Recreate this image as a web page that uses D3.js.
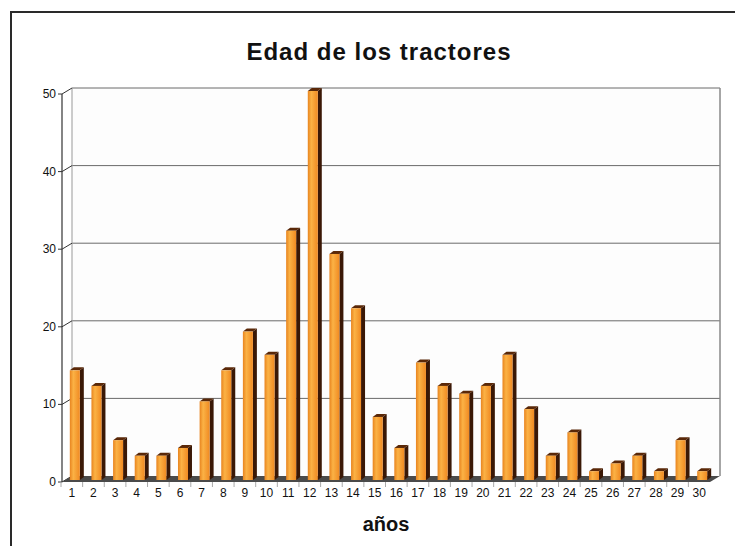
<!DOCTYPE html>
<html><head><meta charset="utf-8">
<script src="https://cdn.jsdelivr.net/npm/d3@7"></script>
<style>body{margin:0;background:#fff}svg{display:block}</style></head>
<body>
<script>
const categories = ["1","2","3","4","5","6","7","8","9","10","11","12","13","14","15","16","17","18","19","20","21","22","23","24","25","26","27","28","29","30"];
const values = [14,12,5,3,3,4,10,14,19,16,32,50,29,22,8,4,15,12,11,12,16,9,3,6,1,2,3,1,5,1];
const yTicks = [0,10,20,30,40,50];
const titleText = "Edad de los tractores";
const xTitleText = "años";

const W = 735, H = 546;
const svg = d3.select("body").append("svg").attr("width", W).attr("height", H);
const x = d3.scaleBand().domain(categories).range([61, 710]);
const y = d3.scaleLinear().domain([0, 50]).range([482, 94]);
const dx = 10, dy = -6;
const wallL = 62 + dx, wallR = 720;
const barShift = -3;

// gradients
const defs = svg.append("defs");
const g = defs.append("linearGradient").attr("id", "front").attr("x1", 0).attr("x2", 1).attr("y1", 0).attr("y2", 0);
g.append("stop").attr("offset", "0%").attr("stop-color", "#e8841f");
g.append("stop").attr("offset", "35%").attr("stop-color", "#fbb245");
g.append("stop").attr("offset", "100%").attr("stop-color", "#f08a22");

// frame
svg.append("path").attr("d", `M11,546 L11,12 L735,12`).attr("fill", "none").attr("stroke", "#2a2a2a").attr("stroke-width", 2);

// back wall
svg.append("rect").attr("x", wallL).attr("y", y(50) + dy).attr("width", wallR - wallL).attr("height", y(0) - y(50))
  .attr("fill", "#fdfdfd").attr("stroke", "none");
// gridlines
svg.append("g").selectAll("line").data(yTicks.filter(d => d > 0)).join("line")
  .attr("x1", wallL).attr("x2", wallR).attr("y1", d => y(d) + dy).attr("y2", d => y(d) + dy)
  .attr("stroke", "#6a6a6a").attr("stroke-width", 1);
// wall edges
svg.append("line").attr("x1", wallL).attr("x2", wallL).attr("y1", y(50) + dy).attr("y2", y(0) + dy).attr("stroke", "#999").attr("stroke-width", 1);
svg.append("line").attr("x1", wallR).attr("x2", wallR).attr("y1", y(50) + dy).attr("y2", y(0) + dy).attr("stroke", "#888").attr("stroke-width", 1.5);
// depth diagonals
svg.append("g").selectAll("line").data(yTicks).join("line")
  .attr("x1", 62).attr("x2", wallL).attr("y1", d => y(d)).attr("y2", d => y(d) + dy)
  .attr("stroke", "#333").attr("stroke-width", 1);

// floor
svg.append("polygon")
  .attr("points", [[62, y(0)], [wallL, y(0) + dy], [wallR, y(0) + dy], [wallR - dx, y(0)]].map(p => p.join(",")).join(" "))
  .attr("fill", "#4a4a4a");

// y axis
svg.append("line").attr("x1", 62).attr("x2", 62).attr("y1", y(50)).attr("y2", y(0)).attr("stroke", "#333").attr("stroke-width", 1.2);
svg.append("g").selectAll("line").data(yTicks).join("line")
  .attr("x1", 58).attr("x2", 62).attr("y1", d => y(d)).attr("y2", d => y(d)).attr("stroke", "#333");
svg.append("g").selectAll("text").data(yTicks).join("text")
  .attr("x", 56).attr("y", d => y(d) + 4).attr("text-anchor", "end")
  .attr("font-family", "Liberation Sans, Arial, sans-serif").attr("font-size", 12).attr("fill", "#111")
  .text(d => d);

// x ticks
svg.append("g").selectAll("line").data(categories).join("line")
  .attr("x1", d => x(d)).attr("x2", d => x(d)).attr("y1", y(0)).attr("y2", y(0) + 5)
  .attr("stroke", "#aaa");

// bars
const bars = svg.append("g").selectAll("g").data(categories.map((c, i) => ({c, v: values[i]}))).join("g");
const cx = d => x(d.c) + x.bandwidth() / 2;
bars.append("polygon")
  .attr("points", d => { const c = cx(d), t = y(d.v) + barShift, b = y(0) + barShift + 1; return [[c + 8, t], [c + 12, t - 3], [c + 12, b - 3], [c + 8, b]].map(p => p.join(",")).join(" "); })
  .attr("fill", "#3a1806");
bars.append("polygon")
  .attr("points", d => { const c = cx(d), t = y(d.v) + barShift; return [[c - 2, t], [c + 2, t - 3], [c + 12, t - 3], [c + 8, t]].map(p => p.join(",")).join(" "); })
  .attr("fill", "#5a2808");
bars.append("rect")
  .attr("x", d => cx(d) - 2).attr("width", 10)
  .attr("y", d => y(d.v) + barShift).attr("height", d => y(0) - y(d.v) + 1)
  .attr("fill", "url(#front)");

// x labels
svg.append("g").selectAll("text").data(categories).join("text")
  .attr("x", d => x(d) + x.bandwidth() / 2).attr("y", 497).attr("text-anchor", "middle")
  .attr("font-family", "Liberation Sans, Arial, sans-serif").attr("font-size", 12).attr("fill", "#111")
  .text(d => d);

// titles
svg.append("text").attr("x", 379).attr("y", 60).attr("text-anchor", "middle")
  .attr("font-family", "Liberation Sans, Arial, sans-serif").attr("font-size", 24).attr("font-weight", "bold")
  .attr("letter-spacing", "1px").attr("fill", "#111").text(titleText);
svg.append("text").attr("x", 386).attr("y", 531).attr("text-anchor", "middle")
  .attr("font-family", "Liberation Sans, Arial, sans-serif").attr("font-size", 20).attr("font-weight", "bold")
  .attr("fill", "#111").text(xTitleText);
</script>
</body></html>
